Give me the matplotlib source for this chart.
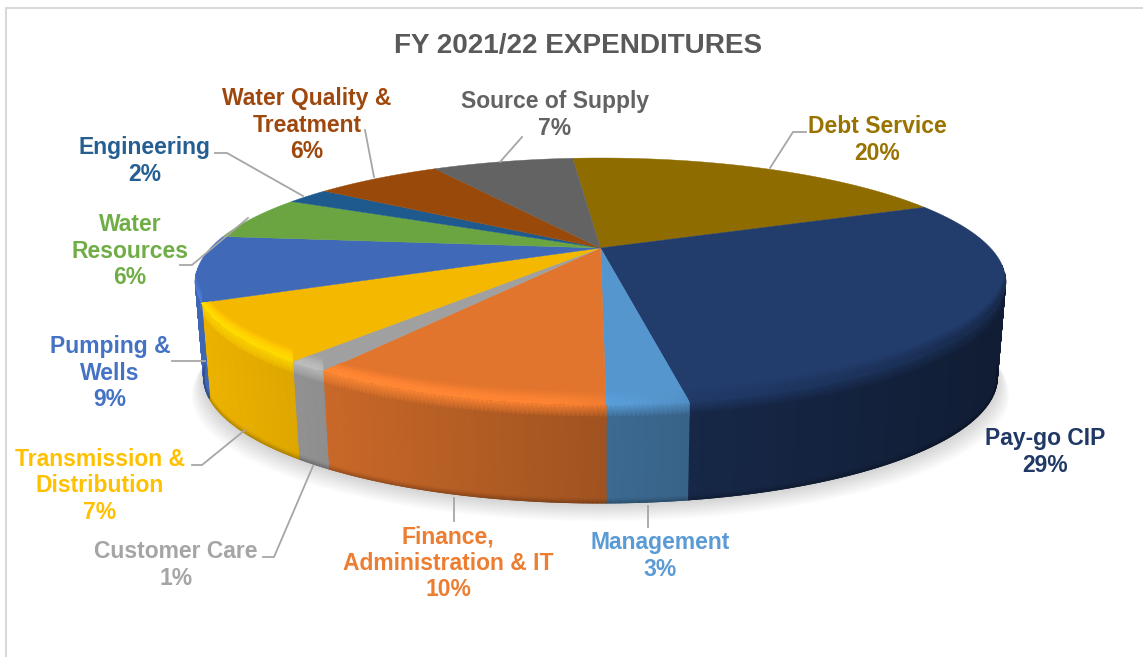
import numpy as np
import matplotlib
matplotlib.use("Agg")
import matplotlib.pyplot as plt
from matplotlib.collections import LineCollection
from matplotlib.colors import to_rgb

plt.rcParams['font.family'] = ['Liberation Sans', 'DejaVu Sans']

title = "FY 2021/22 EXPENDITURES"

# clockwise from the top of the pie, values as they look on the picture
categories = ["Debt Service", "Pay-go CIP", "Management", "Finance, Administration & IT",
              "Customer Care", "Transmission & Distribution", "Pumping & Wells",
              "Water Resources", "Engineering", "Water Quality & Treatment", "Source of Supply"]
shares = [20.0, 28.75, 2.5, 9.45, 1.4, 7.35, 8.6, 5.9, 2.2, 6.5, 7.3]
face_colors = ["#8E6C00", "#223C6C", "#5596CE", "#E2752D", "#A0A0A0", "#F4B800",
               "#4069B8", "#6BA542", "#1F5A8E", "#994A0A", "#636363"]

label_texts = ["Debt Service\n20%", "Pay-go CIP\n29%", "Management\n3%",
               "Finance,\nAdministration & IT\n10%", "Customer Care\n1%",
               "Transmission &\nDistribution\n7%", "Pumping &\nWells\n9%",
               "Water\nResources\n6%", "Engineering\n2%",
               "Water Quality &\nTreatment\n6%", "Source of Supply\n7%"]
label_colors = ["#997300", "#203864", "#5B9BD5", "#ED7D31", "#A5A5A5", "#FFC000",
                "#4472C4", "#70AD47", "#255E91", "#9E480E", "#636363"]
label_x = [877, 1045, 660, 448, 176, 100, 110, 130, 145, 307, 555]
label_y = [140, 452, 556, 563, 565, 486, 373, 251, 161, 125, 115]

leaders = [
    [(806, 132), (793, 132), (770, 168)],
    [(648, 506), (648, 527)],
    [(454, 498), (454, 521)],
    [(263, 557), (274, 557), (313, 466)],
    [(192, 465), (202, 465), (245, 430)],
    [(172, 361), (205, 361)],
    [(180, 265), (192, 265), (248, 218)],
    [(215, 153), (227, 153), (303, 196)],
    [(365, 130), (374, 177)],
    [(522, 137), (500, 162)],
]

start_angle = -5.2
persp = 0.271
top_plane = (600.5, 248.0, 390.0, 114.4)
bottom_plane = (600.5, 343.0, 382.0, 116.6)


def project(theta, r, plane):
    cx, cy, rx, ry = plane
    t = np.radians(theta)
    u = r * np.sin(t)
    v = r * np.cos(t)
    w = 1 / (1 + persp * v)
    return cx + rx * u * w, cy - ry * v * w


def wall_shade(sx):
    return np.interp(sx, [200, 600, 690, 1000], [0.97, 0.71, 0.66, 0.48])


def rim_light(sx):
    return np.interp(sx, [200, 560, 700, 850, 1000], [1.2, 1.12, 0.95, 0.85, 0.7])


fig = plt.figure(figsize=(11.43, 6.57), dpi=100)
ax = fig.add_axes([0, 0, 1, 1])
ax.set_xlim(0, 1143)
ax.set_ylim(657, 0)
ax.axis('off')

# frame
ax.plot([6, 6, 1143], [657, 8, 8], color="#D9D9D9", lw=1.5, zorder=1)

# soft shadow below the pie
ring = np.arange(0, 361, 3.0)
for i in range(14, 0, -1):
    bx, by = project(ring, 1.0, bottom_plane)
    ax.fill(bx + (bx - 600) * i * 0.0022, by + 1 + i * 1.25, color="black", alpha=0.012, lw=0, zorder=2)

edges = start_angle + np.concatenate([[0], np.cumsum(shares)]) / np.sum(shares) * 360
mids = (edges[:-1] + edges[1:]) / 2

# side wall, one smooth mesh per slice, only the part that faces the viewer
wall_s = np.array([0, 0.125, 0.95, 0.975, 1.0])
for k in range(len(shares)):
    base = np.array(to_rgb(face_colors[k]))
    arc = np.append(np.arange(edges[k], edges[k + 1], 0.5), edges[k + 1])
    arc = arc[np.cos(np.radians(arc)) < -0.2]
    if len(arc) < 2:
        continue
    xt, yt = project(arc, 1, top_plane)
    xb, yb = project(arc, 1, bottom_plane)
    X = np.array([xt + (xb - xt) * s for s in wall_s])
    Y = np.array([yt + (yb - yt) * s for s in wall_s])
    shade = wall_shade(xt)
    light = rim_light(xt)
    F = np.array([light, shade, shade, shade * 0.92, shade * 0.78])
    C = np.clip(F[:, :, None] * base, 0, 1)
    ax.pcolormesh(X, Y, C, shading='gouraud', zorder=3)
    # smooth meshes have a hard edge, so run a thin line along the bottom
    segs = [[(xb[i], yb[i]), (xb[i + 1], yb[i + 1])] for i in range(len(xb) - 1)]
    seg_cols = [np.clip(base * shade[i] * 0.78, 0, 1) for i in range(len(xb) - 1)]
    ax.add_collection(LineCollection(segs, colors=seg_cols, linewidths=0.8, zorder=3))

# top face with a lit bevel along the front rim, kept inside each slice
band_dy = np.array([14, 10, 6, 2, -1])
band_m = np.array([0.0, 0.4, 0.8, 1.0, 1.0])
for k in range(len(shares)):
    base = np.array(to_rgb(face_colors[k]))
    arc = np.append(np.arange(edges[k], edges[k + 1], 0.5), edges[k + 1])
    xs, ys = project(arc, 1.0, top_plane)
    cx0, cy0 = project(0.0, 0.0, top_plane)
    wedge = ax.fill(np.r_[cx0, xs], np.r_[cy0, ys], color=face_colors[k], lw=0.3, zorder=4)[0]

    front = np.cos(np.radians(arc)) < -0.15
    if front.sum() < 2:
        continue
    arc_f = arc[front]
    xf, yf = project(arc_f, 1, top_plane)
    amount = np.clip((-0.15 - np.cos(np.radians(arc_f))) / 0.25, 0, 1)
    X = np.array([xf for d in band_dy])
    Y = np.array([yf - d for d in band_dy])
    F = np.array([1 + (rim_light(xf) - 1) * m * amount for m in band_m])
    C = np.clip(F[:, :, None] * base, 0, 1)
    band = ax.pcolormesh(X, Y, C, shading='gouraud', zorder=5)
    band.set_clip_path(wedge)

# leader lines
for pts in leaders:
    ax.plot([p[0] for p in pts], [p[1] for p in pts], color="#A6A6A6", lw=1.3, zorder=6)

# labels
for txt, col, lx, ly in zip(label_texts, label_colors, label_x, label_y):
    ax.text(lx, ly, txt, color=col, fontsize=16.5, fontweight='bold', ha='center',
            va='center', linespacing=1.17, multialignment='center', zorder=7)

ax.text(578.5, 46, title, color="#595959", fontsize=20.1, fontweight='bold', ha='center', va='center')

fig.savefig("out.png", dpi=100)
